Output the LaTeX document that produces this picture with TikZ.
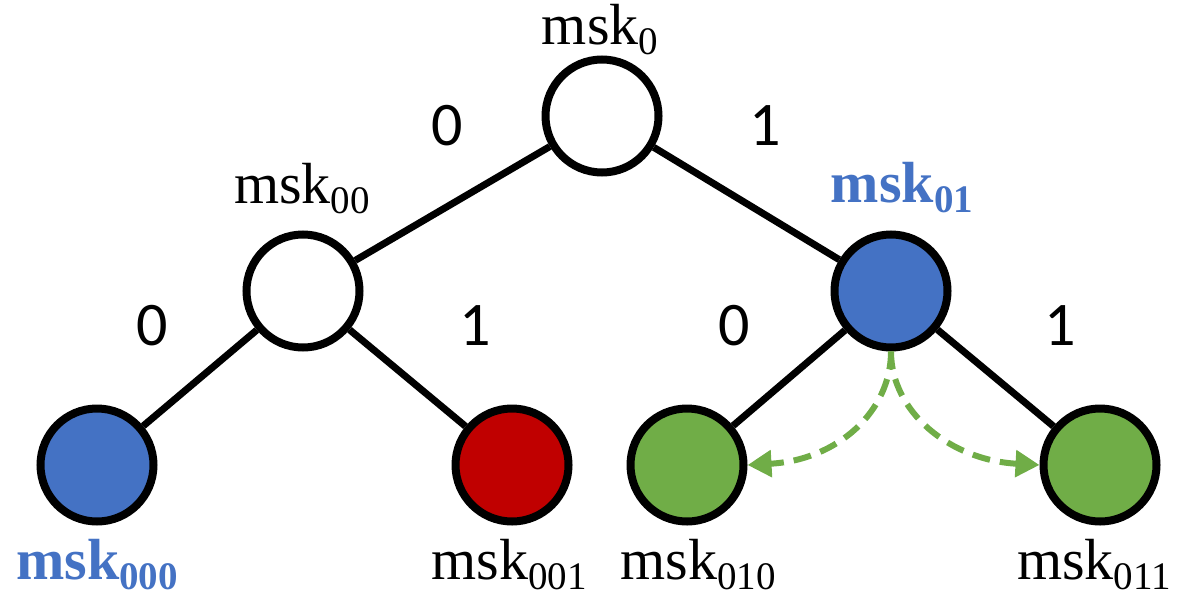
\documentclass[tikz,border=0pt]{standalone}
\usepackage{fontspec}
\setmainfont{Liberation Serif}
\newfontfamily\digitfont{Carlito}
\usetikzlibrary{arrows.meta}
\definecolor{mblue}{HTML}{4472C4}
\definecolor{mred}{HTML}{C00000}
\definecolor{mgreen}{HTML}{70AD47}
% key name with an index set below the baseline
\newcommand\mskname[1]{{\fontsize{58}{58}\selectfont msk}\raisebox{-10pt}{\fontsize{39}{39}\selectfont #1}}
\newcommand\mskbold[1]{{\bfseries\fontsize{58}{58}\selectfont msk}\raisebox{-10pt}{\bfseries\fontsize{39}{39}\selectfont #1}}
\begin{document}
\begin{tikzpicture}[x=1pt,y=-1pt,
  keynode/.style={circle,draw=black,line width=8pt,minimum size=113pt,inner sep=0pt},
  treeedge/.style={line width=7pt},
  bitlabel/.style={anchor=base,inner sep=0pt,font=\digitfont\fontsize{62}{62}\selectfont},
  keylabel/.style={anchor=base,inner sep=0pt},
  derive/.style={draw=mgreen,line width=6pt,dash pattern=on 18pt off 10pt,
    -{Triangle[length=24pt,width=26pt]}}]
\useasboundingbox (0,0) rectangle (1180,597);

% tree nodes
\node[keynode,fill=white] (root) at (602,116) {};
\node[keynode,fill=white] (n00) at (303,291) {};
\node[keynode,fill=mblue] (n01) at (891,291) {};
\node[keynode,fill=mblue] (l000) at (97,465) {};
\node[keynode,fill=mred] (l001) at (512,465) {};
\node[keynode,fill=mgreen] (l010) at (687,465) {};
\node[keynode,fill=mgreen] (l011) at (1100,465) {};

% tree edges
\draw[treeedge] (root) -- (n00);
\draw[treeedge] (root) -- (n01);
\draw[treeedge] (n00) -- (l000);
\draw[treeedge] (n00) -- (l001);
\draw[treeedge] (n01) -- (l010);
\draw[treeedge] (n01) -- (l011);

% bit labels on the edges
\node[bitlabel] (b0) at (447,145) {0};
\node[bitlabel] (b1) at (765,145) {1};
\node[bitlabel] (b00) at (152,345) {0};
\node[bitlabel] (b01) at (475,345) {1};
\node[bitlabel] (b10) at (734,345) {0};
\node[bitlabel] (b11) at (1060,345) {1};

% key names
\node[keylabel] (t0) at (600,44) {\mskname{0}};
\node[keylabel] (t00) at (302,203) {\mskname{00}};
\node[keylabel,text=mblue] (t01) at (902,202) {\mskbold{01}};
\node[keylabel,text=mblue] (t000) at (97,579) {\mskbold{000}};
\node[keylabel] (t001) at (509,579) {\mskname{001}};
\node[keylabel] (t010) at (698,579) {\mskname{010}};
\node[keylabel] (t011) at (1094,579) {\mskname{011}};

% derivation of both children from msk01
\draw[derive] (n01.south) .. controls +(0,60) and +(90,-5) .. (l010.east);
\draw[derive] (n01.south) .. controls +(0,60) and +(-90,-5) .. (l011.west);
\end{tikzpicture}
\end{document}
